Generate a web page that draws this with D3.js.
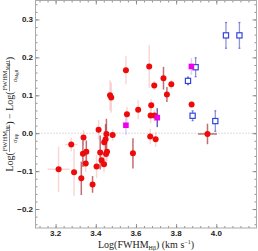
<!DOCTYPE html>
<html><head><meta charset="utf-8">
<script src="https://cdn.jsdelivr.net/npm/d3@7"></script>
<style>html,body{margin:0;padding:0;background:#fff;}svg{display:block;}</style>
</head><body>
<svg id="c" width="258" height="251"></svg>
<script>
// ---- data ----
const xTicks = [3.2, 3.4, 3.6, 3.8, 4.0];
const yTicks = [-0.2, -0.1, 0.0, 0.1, 0.2, 0.3];

const redX = [3.215,3.278,3.292,3.328,3.339,3.336,3.353,3.350,3.384,3.404,3.414,3.422,3.429,3.441,3.442,3.449,3.453,3.451,3.456,3.484,3.471,3.477,3.550,3.555,3.585,3.611,3.666,3.671,3.676,3.673,3.692,3.691,3.698,3.737,3.754,3.776,3.877,3.956];
const redY = [-0.095,-0.030,-0.103,-0.119,-0.011,-0.054,-0.049,-0.080,-0.135,-0.088,0.009,-0.051,-0.071,-0.082,-0.024,-0.016,-0.002,-0.055,-0.049,-0.005,0.100,0.094,0.166,0.050,-0.053,0.062,0.176,-0.009,0.074,0.047,0.047,0.126,-0.016,0.145,0.102,0.129,0.076,-0.002];
const redYErr = [0.060,0.018,0.062,0.044,0.020,0.035,0.030,0.022,0.022,0.030,0.026,0.045,0.020,0.020,0.030,0.040,0.040,0.025,0.025,0.015,0.040,0.040,0.037,0.020,0.040,0.025,0.056,0.020,0.015,0.020,0.015,0.012,0.020,0.030,0.020,0.012,0.008,0.027];
const redXErr = [0.055,0.032,0,0,0,0,0,0,0,0,0,0,0,0,0,0,0,0,0,0.015,0,0,0,0,0,0,0,0,0,0,0,0,0,0,0,0,0,0.047];
const redGroup = [0,0,0,1,0,1,1,0,1,0,0,1,0,0,0,1,1,0,0,0,0,0,0,0,1,0,0,0,0,0,0,0,0,1,1,0,0,1];

const blueX = [4.048,4.115,3.897,3.859,3.882,3.995];
const blueY = [0.258,0.258,0.174,0.138,0.046,0.032];
const blueYErr = [0.034,0.034,0.025,0.010,0.013,0.027];

const magX = [3.876,3.706,3.550];
const magY = [0.176,0.041,0.021];
const magYErr = [0.022,0.025,0.026];
const magGroup = [0,1,0];

// ---- layout ----
const svg = d3.select('#c');
const L = 35.5, R = 256.5, T = 0.5, B = 228;
const x = d3.scaleLinear().domain([3.1, 4.2]).range([L, R]);
const y = d3.scaleLinear().domain([-0.25, 0.35]).range([B, T]);

// zero line
svg.append('line').attr('x1', L).attr('x2', R).attr('y1', y(0)).attr('y2', y(0))
  .attr('stroke', '#bbb').attr('stroke-width', 1).attr('stroke-dasharray', '1,2');

// minor ticks
const xMinor = d3.range(3.12, 4.2, 0.04);
const yMinor = d3.range(-0.24, 0.35, 0.02);
const tickCol = '#777';
function addAxis(axis, transform, ticks, len, fmt) {
  const g = svg.append('g').attr('transform', transform)
    .call(axis.tickValues(ticks).tickSize(len).tickSizeOuter(0).tickFormat(fmt));
  g.select('.domain').remove();
  g.selectAll('line').attr('stroke', tickCol).attr('stroke-width', 0.8);
  return g;
}
const blank = () => '';
addAxis(d3.axisTop(x), `translate(0,${B})`, xMinor, 2, blank);
addAxis(d3.axisTop(x), `translate(0,${B})`, xTicks, 4, blank);
addAxis(d3.axisBottom(x), `translate(0,${T})`, xMinor, 2, blank);
addAxis(d3.axisBottom(x), `translate(0,${T})`, xTicks, 4, blank);
addAxis(d3.axisRight(y), `translate(${L},0)`, yMinor, 2, blank);
addAxis(d3.axisRight(y), `translate(${L},0)`, yTicks, 4, blank);
addAxis(d3.axisLeft(y), `translate(${R},0)`, yMinor, 2, blank);
addAxis(d3.axisLeft(y), `translate(${R},0)`, yTicks, 4, blank);

// frame
svg.append('rect').attr('x', L).attr('y', T).attr('width', R - L).attr('height', B - T)
  .attr('fill', 'none').attr('stroke', '#aaa').attr('stroke-width', 1);

// tick labels
const lblFont = "'Liberation Sans', Arial, sans-serif";
svg.append('g').selectAll('text').data(xTicks).join('text')
  .attr('x', d => x(d)).attr('y', 235.5).attr('text-anchor', 'middle')
  .attr('font-family', lblFont).attr('font-weight', 'bold').attr('font-size', 8).attr('fill', '#222')
  .text(d => d3.format('.1f')(d));
svg.append('g').selectAll('text').data(yTicks).join('text')
  .attr('x', 33).attr('y', d => y(d) + 3).attr('text-anchor', 'end')
  .attr('font-family', lblFont).attr('font-weight', 'bold').attr('font-size', 8).attr('fill', '#222')
  .text(d => d3.format('.1f')(d));

// ---- data marks ----
const red = redX.map((v, i) => ({x: v, y: redY[i], ey: redYErr[i], ex: redXErr[i], g: redGroup[i]}));
const blue = blueX.map((v, i) => ({x: v, y: blueY[i], ey: blueYErr[i]}));
const mag = magX.map((v, i) => ({x: v, y: magY[i], ey: magYErr[i], g: magGroup[i]}));

const redBar = g => g ? 'rgba(160,30,40,0.65)' : 'rgba(235,110,110,0.28)';
const eb = svg.append('g');
eb.selectAll('.rv').data(red).join('line')
  .attr('x1', d => x(d.x)).attr('x2', d => x(d.x))
  .attr('y1', d => y(d.y - d.ey)).attr('y2', d => y(d.y + d.ey))
  .attr('stroke', d => redBar(d.g)).attr('stroke-width', 1.5);
eb.selectAll('.rh').data(red.filter(d => d.ex > 0)).join('line')
  .attr('x1', d => x(d.x - d.ex)).attr('x2', d => x(d.x + d.ex))
  .attr('y1', d => y(d.y)).attr('y2', d => y(d.y))
  .attr('stroke', d => redBar(d.g)).attr('stroke-width', 1.5);
eb.selectAll('.bv').data(blue).join('line')
  .attr('x1', d => x(d.x)).attr('x2', d => x(d.x))
  .attr('y1', d => y(d.y - d.ey)).attr('y2', d => y(d.y + d.ey))
  .attr('stroke', 'rgba(70,80,190,0.6)').attr('stroke-width', 1.3);
eb.selectAll('.bc').data(blue.flatMap(d => [d.y - d.ey, d.y + d.ey].map(v => ({x: d.x, v})))).join('line')
  .attr('x1', d => x(d.x) - 1).attr('x2', d => x(d.x) + 1)
  .attr('y1', d => y(d.v)).attr('y2', d => y(d.v))
  .attr('stroke', 'rgba(70,80,190,0.7)').attr('stroke-width', 1.2);
eb.selectAll('.mv').data(mag).join('line')
  .attr('x1', d => x(d.x)).attr('x2', d => x(d.x))
  .attr('y1', d => y(d.y - d.ey)).attr('y2', d => y(d.y + d.ey))
  .attr('stroke', d => d.g ? 'rgba(70,60,170,0.8)' : 'rgba(170,140,230,0.4)').attr('stroke-width', 1.5);

svg.append('g').selectAll('circle').data(red).join('circle')
  .attr('cx', d => x(d.x)).attr('cy', d => y(d.y)).attr('r', 3)
  .attr('fill', '#ee0a0a');
svg.append('g').selectAll('rect').data(blue).join('rect')
  .attr('x', d => x(d.x) - 2.6).attr('y', d => y(d.y) - 2.6).attr('width', 5.2).attr('height', 5.2)
  .attr('fill', '#fff').attr('stroke', '#3344dd').attr('stroke-width', 1.2);
svg.append('g').selectAll('rect').data(mag).join('rect')
  .attr('x', d => x(d.x) - 2.8).attr('y', d => y(d.y) - 2.8).attr('width', 5.6).attr('height', 5.6)
  .attr('fill', '#ee00ee');

// ---- axis titles ----
const serif = "'Liberation Serif', 'Times New Roman', serif";
const xl = svg.append('text').attr('x', (L + R) / 2).attr('y', 248).attr('text-anchor', 'middle')
  .attr('font-family', serif).attr('font-size', 10).attr('fill', '#222');
xl.append('tspan').text('Log(FWHM');
xl.append('tspan').attr('font-size', 6).attr('dy', 2).text('Hβ');
xl.append('tspan').attr('dy', -2).text(') (km s');
xl.append('tspan').attr('font-size', 6).attr('dy', -4).text('−1');
xl.append('tspan').attr('dy', 4).text(')');

// y title built in rotated frame
const yg = svg.append('g');
const inner = yg.append('g');
let cur = 0;
function plain(t) {
  const el = inner.append('text').attr('x', cur).attr('y', 0)
    .attr('font-family', serif).attr('font-size', 10).attr('fill', '#222').text(t);
  cur += el.node().getComputedTextLength();
}
function frac(numMain, numSub, denMain, denSub) {
  const mk = (main, sub, yy) => {
    const el = inner.append('text').attr('y', yy).attr('font-family', serif).attr('font-size', 6.5).attr('fill', '#222');
    el.append('tspan').text(main);
    el.append('tspan').attr('font-size', 4.5).attr('dy', 1.3).text(sub);
    return el;
  };
  const n = mk(numMain, numSub, -5.2), dn = mk(denMain, denSub, 4);
  const wn = n.node().getComputedTextLength(), wd = dn.node().getComputedTextLength();
  const w = Math.max(wn, wd) + 1.5;
  n.attr('x', cur + (w - wn) / 2); dn.attr('x', cur + (w - wd) / 2);
  inner.append('line').attr('x1', cur).attr('x2', cur + w).attr('y1', -3).attr('y2', -3)
    .attr('stroke', '#222').attr('stroke-width', 0.5);
  cur += w;
}
plain('Log(');
frac('FWHM', 'Hβ', 'σ', 'Hβ');
plain(') − Log(');
frac('FWHM', 'MgII', 'σ', 'MgII');
plain(')');
const total = cur;
yg.attr('transform', `translate(12.5,${(T + B) / 2 + total / 2}) rotate(-90)`);
</script>
</body></html>
